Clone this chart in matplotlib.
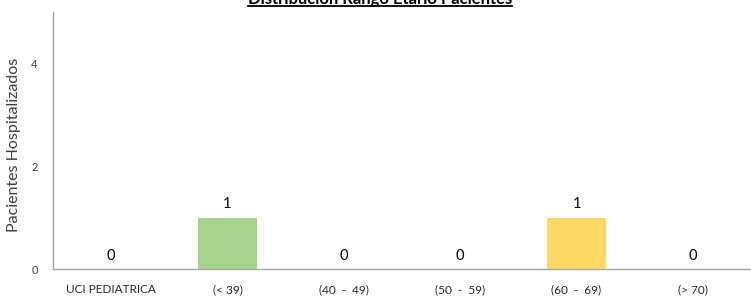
import matplotlib
matplotlib.use("Agg")
import matplotlib.pyplot as plt
from matplotlib.lines import Line2D

plt.rcParams['font.family'] = ['Lato', 'DejaVu Sans']

# datos del grafico
categorias = ['UCI PEDIATRICA', '(< 39)', '(40  -  49)', '(50  -  59)', '(60  -  69)', '(> 70)']
pacientes = [0, 1, 0, 0, 1, 0]
colores = ['#A9D18E', '#A9D18E', '#A9D18E', '#A9D18E', '#FFD966', '#FFD966']
titulo = 'Distribución Rango Etario Pacientes'
etiqueta_y = 'Pacientes Hospitalizados'

fig = plt.figure(figsize=(7.51, 2.99), dpi=100)
ax = fig.add_axes([53 / 751, 30 / 299, 698 / 751, 257 / 299])

x = range(len(categorias))
ax.bar(x, pacientes, width=0.5, color=colores)
ax.set_xlim(-0.5, len(categorias) - 0.5)
ax.set_ylim(0, 5)
ax.set_yticks([0, 2, 4])

# valores sobre las barras
for i, v in enumerate(pacientes):
  ax.text(i, v + 0.12, str(v), ha='center', va='bottom', fontsize=10.5, color='black')

ax.set_xticks(list(x))
ax.set_xticklabels(categorias)
ax.tick_params(axis='y', length=0, pad=11, labelsize=8, colors='#404040')
ax.tick_params(axis='x', length=0, pad=11, labelsize=8.5, colors='#262626')

for lado in ['top', 'right']:
  ax.spines[lado].set_visible(False)
for lado in ['left', 'bottom']:
  ax.spines[lado].set_color('#A6A6A6')
  ax.spines[lado].set_linewidth(1)

# etiqueta eje y
fig.text(14 / 751, 1 - 145 / 299, etiqueta_y, rotation=90, ha='center', va='center', fontsize=11.5, color='#404040')

# titulo subrayado (cortado arriba como en el original)
t = fig.text(380 / 751, 1 - 4 / 299, titulo, ha='center', va='baseline', fontsize=12, fontweight='bold')
fig.canvas.draw()
bb = t.get_window_extent().transformed(fig.transFigure.inverted())
fig.add_artist(Line2D([bb.x0, bb.x1], [1 - 6 / 299, 1 - 6 / 299], transform=fig.transFigure, color='black', linewidth=1.3))

fig.savefig('out.png', dpi=100)
